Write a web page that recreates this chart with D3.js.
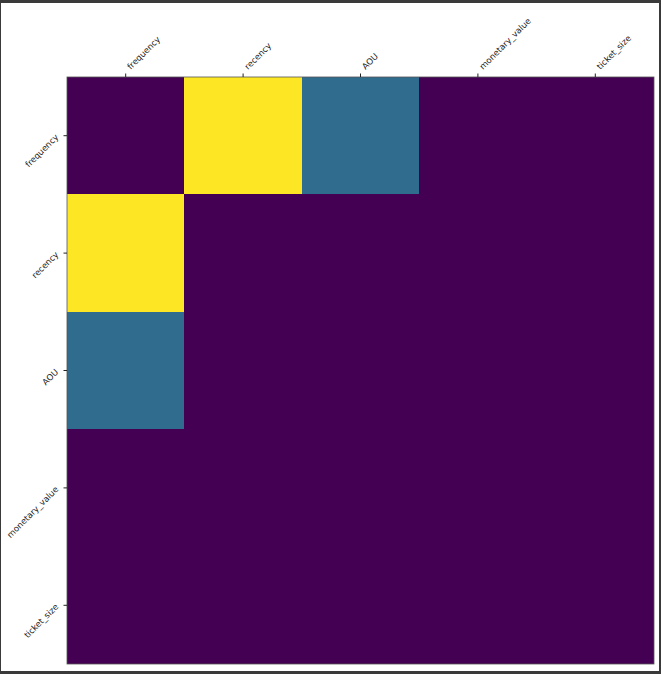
<!DOCTYPE html>
<html>
<head>
<meta charset="utf-8">
<script src="https://cdn.jsdelivr.net/npm/d3@7"></script>
<style>
  body { margin: 0; background: #3a3a3a; }
  svg { display: block; }
</style>
</head>
<body>
<div id="chart"></div>
<script>
// Feature names and the matrix values (rows x columns)
const features = ["frequency", "recency", "AOU", "monetary_value", "ticket_size"];
const matrix = [
  [0, 1, 0.35, 0, 0],
  [1, 0, 0, 0, 0],
  [0.35, 0, 0, 0, 0],
  [0, 0, 0, 0, 0],
  [0, 0, 0, 0, 0]
];

const W = 661, H = 674;
const margin = { top: 77, left: 67 };
const size = 587;

const svg = d3.select("#chart")
  .append("svg")
  .attr("width", W)
  .attr("height", H);

// white figure area inside the dark frame
svg.append("rect")
  .attr("x", 1).attr("y", 3)
  .attr("width", W - 3).attr("height", H - 6)
  .attr("fill", "#ffffff");

const g = svg.append("g")
  .attr("transform", `translate(${margin.left},${margin.top})`);

const x = d3.scaleBand().domain(features).range([0, size]);
const y = d3.scaleBand().domain(features).range([0, size]);
const color = d3.scaleSequential(d3.interpolateViridis).domain([0, 1]);

const cells = [];
matrix.forEach((row, i) => row.forEach((v, j) => cells.push({ r: features[i], c: features[j], v })));

g.selectAll("rect.cell")
  .data(cells)
  .join("rect")
  .attr("class", "cell")
  .attr("x", d => Math.round(x(d.c)))
  .attr("y", d => Math.round(y(d.r)))
  .attr("width", d => Math.round(x(d.c) + x.bandwidth()) - Math.round(x(d.c)))
  .attr("height", d => Math.round(y(d.r) + y.bandwidth()) - Math.round(y(d.r)))
  .attr("shape-rendering", "crispEdges")
  .attr("fill", d => color(d.v));

// frame around the image
g.append("rect")
  .attr("width", size).attr("height", size)
  .attr("fill", "none")
  .attr("stroke", "#555")
  .attr("stroke-width", 0.8);

// top axis
const topAxis = g.append("g")
  .call(d3.axisTop(x).tickSize(3.5).tickPadding(2));
topAxis.select(".domain").remove();
topAxis.selectAll("line").attr("stroke", "#222");
topAxis.selectAll("text")
  .attr("font-family", "DejaVu Sans, sans-serif")
  .attr("font-size", 8.5)
  .attr("fill", "#222")
  .attr("text-anchor", "start")
  .attr("dy", 0)
  .attr("y", 0)
  .attr("transform", "translate(5,-7) rotate(-45)");

// left axis
const leftAxis = g.append("g")
  .call(d3.axisLeft(y).tickSize(3.5).tickPadding(2));
leftAxis.select(".domain").remove();
leftAxis.selectAll("line").attr("stroke", "#222");
leftAxis.selectAll("text")
  .attr("font-family", "DejaVu Sans, sans-serif")
  .attr("font-size", 8.5)
  .attr("fill", "#222")
  .attr("text-anchor", "end")
  .attr("x", 0)
  .attr("dy", 0)
  .attr("transform", "translate(-8,2) rotate(-45)");
</script>
</body>
</html>
